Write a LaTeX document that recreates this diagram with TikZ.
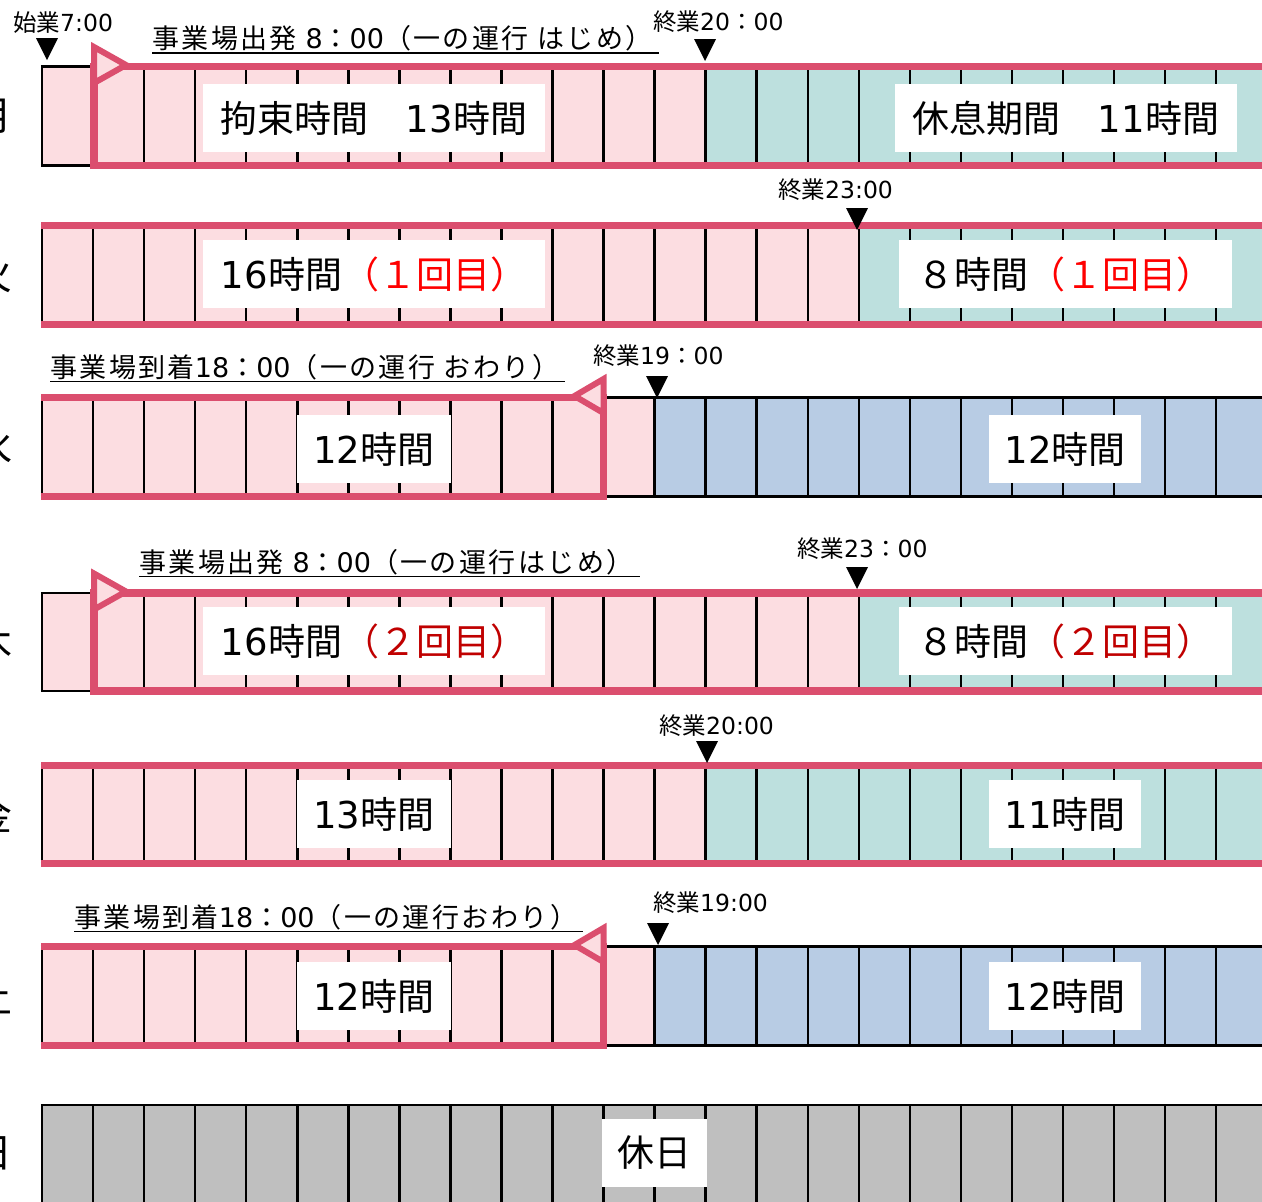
\documentclass[tikz,border=0pt]{standalone}
\usepackage{fontspec}
\setmainfont{Noto Sans CJK JP}
\newfontfamily\lat{DejaVu Sans}
\newcommand{\LL}[1]{{\lat #1}}
\definecolor{pkfill}{RGB}{252,221,225}
\definecolor{pkline}{RGB}{219,78,110}
\definecolor{restg}{RGB}{189,224,222}
\definecolor{restb}{RGB}{184,204,228}
\definecolor{holg}{RGB}{191,191,191}
\definecolor{redA}{RGB}{255,0,0}
\definecolor{redB}{RGB}{192,0,0}
\newcommand{\cw}{51.05}
\newcommand{\xo}{42}
% #1 top, #2 bottom, #3 switch cell index, #4 second colour
\newcommand{\dayrow}[4]{%
  \fill[pkfill] (\xo,#1) rectangle ({\xo+#3*\cw},#2);
  \fill[#4] ({\xo+#3*\cw},#1) rectangle (1270,#2);
  \foreach \i in {0,...,24} \draw[gridline] ({\xo+\i*\cw},#1) -- ({\xo+\i*\cw},#2);
  \draw[gridline] (\xo-1.25,#1) -- (1270,#1) (\xo-1.25,#2) -- (1270,#2);
}
\newcommand{\tmark}[2]{\fill[black] ({#1-11},#2) -- ({#1+11},#2) -- (#1,{#2+22}) -- cycle;}
\begin{document}
\begin{tikzpicture}[x=1pt,y=-1pt,
  gridline/.style={line width=2.5pt,black},
  pkbar/.style={line width=7.5pt,pkline,line join=miter},
  pktri/.style={line width=6pt,pkline,fill=pkfill,line join=miter},
  labbox/.style={fill=white,inner sep=0pt,minimum height=68pt,font=\fontsize{37}{40}\selectfont},
  annot/.style={inner sep=0pt,font=\fontsize{27}{30}\selectfont\addfontfeature{LetterSpace=9},anchor=base west},
  timel/.style={inner sep=0pt,font=\fontsize{23.5}{26}\selectfont,anchor=base west},
  daylab/.style={inner sep=0pt,font=\fontsize{40}{44}\selectfont,anchor=east},
  uline/.style={line width=1.3pt,black}]
\useasboundingbox (0,0) rectangle (1262,1202);

% ---------- rows ----------
\dayrow{66.5}{165.5}{13}{restg}
\dayrow{225.5}{324.5}{16}{restg}
\dayrow{397.5}{496.5}{12}{restb}
\dayrow{593}{691}{16}{restg}
\dayrow{765.5}{863.5}{13}{restg}
\dayrow{946.5}{1045.5}{12}{restb}
\fill[holg] (\xo,1105) rectangle (1270,1210);
\foreach \i in {0,...,24} \draw[gridline] ({\xo+\i*\cw},1105) -- ({\xo+\i*\cw},1210);
\draw[gridline] (\xo-1.25,1105) -- (1270,1105);

% ---------- day labels (cut at the left edge, as in the reference) ----------
\node[daylab] (d1) at (13,116) {月};
\node[daylab] (d2) at (13,275) {火};
\node[daylab] (d3) at (13,447) {水};
\node[daylab] (d4) at (13,642) {木};
\node[daylab] (d5) at (13,814.5) {金};
\node[daylab] (d6) at (13,996) {土};
\node[daylab] (d7) at (13,1153) {日};

% ---------- label boxes ----------
\node[labbox,minimum width=342pt] (l1a) at (374,118) {拘束時間　\LL{13}時間};
\node[labbox,minimum width=342pt] (l1b) at (1066,118) {休息期間　\LL{11}時間};
\node[labbox,minimum width=342pt] (l2a) at (374,274) {\LL{16}時間\textcolor{redA}{（１回目）}};
\node[labbox,minimum width=333pt] (l2b) at (1065.5,274) {８時間\textcolor{redA}{（１回目）}};
\node[labbox,minimum width=154pt] (l3a) at (374,449) {\LL{12}時間};
\node[labbox,minimum width=152pt] (l3b) at (1065,449) {\LL{12}時間};
\node[labbox,minimum width=342pt] (l4a) at (374,641) {\LL{16}時間\textcolor{redB}{（２回目）}};
\node[labbox,minimum width=333pt] (l4b) at (1065.5,641) {８時間\textcolor{redB}{（２回目）}};
\node[labbox,minimum width=154pt] (l5a) at (374,814) {\LL{13}時間};
\node[labbox,minimum width=152pt] (l5b) at (1065,814) {\LL{11}時間};
\node[labbox,minimum width=154pt] (l6a) at (374,996) {\LL{12}時間};
\node[labbox,minimum width=152pt] (l6b) at (1065,996) {\LL{12}時間};
\node[labbox,minimum width=105pt] (l7) at (654.5,1153) {休日};

% ---------- pink operation frames ----------
\draw[pkbar] (1275,66.5) -- (94,66.5) -- (94,165.5) -- (1275,165.5);
\draw[pktri] (94,47) -- (126,65) -- (94,83) -- cycle;
\draw[pkbar] (41,225.5) -- (1275,225.5);
\draw[pkbar] (41,324.5) -- (1275,324.5);
\draw[pkbar] (41,397.5) -- (603.5,397.5) -- (603.5,496.5) -- (41,496.5);
\draw[pktri] (603.5,379) -- (574.5,396) -- (603.5,413) -- cycle;
\draw[pkbar] (1275,593) -- (94,593) -- (94,691) -- (1275,691);
\draw[pktri] (94,573.5) -- (126,591.5) -- (94,609.5) -- cycle;
\draw[pkbar] (41,765.5) -- (1275,765.5);
\draw[pkbar] (41,863.5) -- (1275,863.5);
\draw[pkbar] (41,946.5) -- (603.5,946.5) -- (603.5,1045.5) -- (41,1045.5);
\draw[pktri] (603.5,928) -- (574.5,945) -- (603.5,962) -- cycle;

% ---------- annotations ----------
\node[annot] (a1) at (152,48.5) {事業場出発\LL{\ 8}：\LL{00}（一の運行\LL{\ }はじめ）};
\draw[uline] ([yshift=-4.5pt]a1.base west) -- ([yshift=-4.5pt,xshift=6pt]a1.base east);
\node[annot] (a2) at (50,377) {事業場到着\LL{18}：\LL{00}（一の運行\LL{\ }おわり）};
\draw[uline] ([yshift=-4.5pt]a2.base west) -- ([yshift=-4.5pt,xshift=6pt]a2.base east);
\node[annot] (a3) at (139,572) {事業場出発\LL{\ 8}：\LL{00}（一の運行はじめ）};
\draw[uline] ([yshift=-4.5pt]a3.base west) -- ([yshift=-4.5pt,xshift=6pt]a3.base east);
\node[annot] (a4) at (74,927) {事業場到着\LL{18}：\LL{00}（一の運行おわり）};
\draw[uline] ([yshift=-4.5pt]a4.base west) -- ([yshift=-4.5pt,xshift=6pt]a4.base east);

% ---------- time labels and markers ----------
\node[timel] (s1) at (13,31) {始業\LL{7:00}};
\tmark{47}{38}
\node[timel] (s2) at (653,30) {終業\LL{20}：\LL{00}};
\tmark{705}{39}
\node[timel] (s3) at (778,198) {終業\LL{23:00}};
\tmark{857}{208}
\node[timel] (s4) at (593,364) {終業\LL{19}：\LL{00}};
\tmark{657}{376}
\node[timel] (s5) at (797,557) {終業\LL{23}：\LL{00}};
\tmark{857}{567}
\node[timel] (s6) at (659,734) {終業\LL{20:00}};
\tmark{707}{741}
\node[timel] (s7) at (653,911) {終業\LL{19:00}};
\tmark{658}{923}
\end{tikzpicture}
\end{document}
